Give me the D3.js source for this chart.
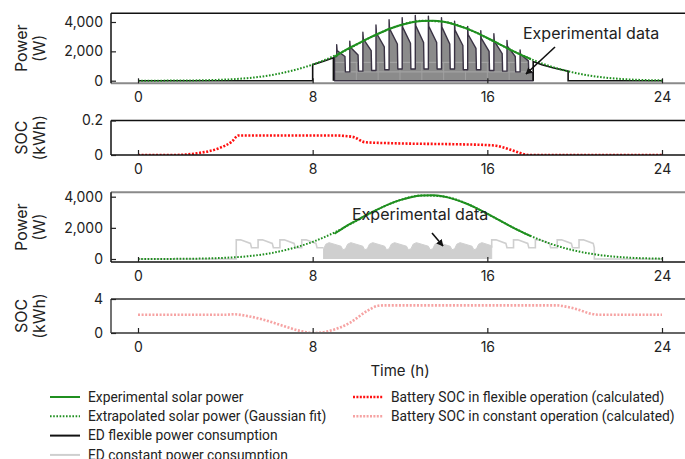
<!DOCTYPE html>
<html><head><meta charset="utf-8">
<script src="https://cdn.jsdelivr.net/npm/d3@7"></script>
<style>
body{margin:0;background:#fff}
svg{display:block}
text{font-family:Inter, "Noto Sans", sans-serif;fill:#222}
.leg{font-family:Roboto, sans-serif}
</style>
</head><body>
<svg id="c" width="685" height="459"></svg>
<script>
// ---------- data ----------
const xTicks = [0, 8, 16, 24];
const powerTicks = [0, 2000, 4000];
const socFlexTicks = [0, 0.2];
const socConstTicks = [0, 4];

// extrapolated solar power (Gaussian fit), hourly
const solarHours = [0,1,2,3,4,5,6,7,8,9,10,11,12,13,14,15,16,17,18,19,20,21,22,23,24];
const solarExtrap = [1,4,12,31,77,173,355,663,1100,1700,2450,3200,3780,4080,4010,3590,2900,2150,1470,930,540,280,130,55,20];

// experimental solar power
const solarExpT = [9,9.5,10,10.5,11,11.5,12,12.5,13,13.5,14,14.5,15,15.5,16,16.5,17,17.5,18];
const solarExpW = [1620,2080,2470,2850,3200,3520,3780,3970,4070,4090,4010,3830,3580,3270,2910,2530,2150,1790,1460];

// ED flexible power (outside experimental window)
const flexBefore = [[0,0],[8,0],[8,1090],[8.5,1330],[8.95,1560],[8.95,0]];
const flexAfter = [[18.1,0],[18.1,1300],[18.5,1080],[19,880],[19.7,650],[19.7,0],[24,0]];
// ED flexible power, experimental data (h, W)
const flexExp = [
[9.0,0],[9.0,1650],[9.1,1650],[9.1,2450],[9.12,2050],[9.48,1650],[9.5,600],[9.7,600],
[9.7,2700],[9.72,2300],[10.08,1750],[10.1,650],[10.3,650],
[10.3,3300],[10.32,2850],[10.68,2050],[10.7,700],[10.9,700],
[10.9,3800],[10.92,3250],[11.28,2300],[11.3,750],[11.5,750],
[11.5,4150],[11.52,3550],[11.88,2500],[11.9,800],[12.1,800],
[12.1,4300],[12.12,3650],[12.48,2550],[12.5,800],[12.7,800],
[12.7,4450],[12.72,3750],[13.08,2600],[13.1,800],[13.3,800],
[13.3,4400],[13.32,3700],[13.68,2600],[13.7,800],[13.9,800],
[13.9,4300],[13.92,3650],[14.28,2500],[14.3,800],[14.5,800],
[14.5,4050],[14.52,3450],[14.88,2400],[14.9,750],[15.1,750],
[15.1,3700],[15.12,3150],[15.48,2200],[15.5,750],[15.7,750],
[15.7,3400],[15.72,2900],[16.08,2000],[16.1,700],[16.3,700],
[16.3,3200],[16.32,2700],[16.68,1850],[16.7,650],[16.9,650],
[16.9,2750],[16.92,2350],[17.28,1650],[17.3,600],[17.5,600],
[17.5,2100],[17.52,1800],[17.88,1350],[17.9,550],[18.1,550],[18.1,0]
];
// faint grid seen through the experimental fill
const fillGridW = [600, 1250];
const fillGridH = [10, 11, 12, 13, 14, 15, 16, 17];

// ED constant power (h, W)
const constBefore = [[0,0],[4.5,0],[4.5,1230],[4.7,1230],[5.15,1000],[5.2,720],[5.5,720],
[5.5,1230],[5.7,1230],[6.15,1000],[6.2,720],[6.5,720],
[6.5,1230],[6.7,1230],[7.15,1000],[7.2,720],[7.5,720],
[7.5,1230],[7.7,1230],[8.15,1000],[8.2,720],[8.5,720]];
const constAfter = [[16.2,720],[16.2,1230],[16.4,1230],[16.85,1000],[16.9,720],[17.2,720],
[17.2,1230],[17.4,1230],[17.85,1000],[17.9,720],[18.2,720],
[18.2,1230],[18.4,1230],[18.85,1000],[18.9,720],[19.2,720],
[19.2,1230],[19.4,1230],[19.85,1000],[19.9,720],[20.2,720],
[20.2,1230],[20.4,1230],[20.85,1000],[20.9,720],[20.9,0],[24,0]];
const constExp = [
[8.5,0],[8.5,650],[8.6,950],[8.75,1050],[9.3,820],[9.38,600],
[9.5,650],[9.6,950],[9.75,1050],[10.3,820],[10.38,600],
[10.5,650],[10.6,950],[10.75,1050],[11.3,820],[11.38,600],
[11.5,650],[11.6,950],[11.75,1050],[12.3,820],[12.38,600],
[12.5,650],[12.6,950],[12.75,1050],[13.3,820],[13.38,600],
[13.5,650],[13.6,950],[13.75,1050],[14.3,820],[14.38,600],
[14.5,650],[14.6,950],[14.75,1050],[15.3,820],[15.38,600],
[15.5,650],[15.6,950],[15.75,1050],[16.2,850],[16.2,0]
];

// battery SOC (h, kWh)
const socFlex = [[0,0],[1.7,0],[2.7,0.01],[3.7,0.039],[4.3,0.078],[4.6,0.113],[9.1,0.113],[9.5,0.11],[9.9,0.103],[10.4,0.074],[11.7,0.068],[14.7,0.062],[15.9,0.058],[16.4,0.054],[16.7,0.045],[17.3,0.02],[17.9,0],[24,0]];
const socConst = [[0,2.15],[4.0,2.15],[4.4,2.2],[5.0,2.0],[5.7,1.6],[6.7,0.8],[7.5,0.2],[8.0,0],[8.7,0.2],[9.7,1.2],[10.5,2.6],[11.0,3.2],[11.3,3.25],[19.2,3.25],[19.6,3.1],[20.1,2.8],[20.7,2.3],[21.1,2.15],[24,2.15]];

const legendLeft = ["Experimental solar power","Extrapolated solar power (Gaussian fit)","ED flexible power consumption","ED constant power consumption"];
const legendRight = ["Battery SOC in flexible operation (calculated)","Battery SOC in constant operation (calculated)"];

// ---------- drawing ----------
const svg = d3.select("#c");
const x = d3.scaleLinear().domain([0,24]).range([138,662]);
const GREEN = "#1f8f1f", RED = "#ff1010", PINK = "#f6a3a3", DARK = "#3a3344", LGRAY = "#cfcfcf";

function panel(cfg){
  const y = d3.scaleLinear().domain(cfg.domain).range(cfg.range);
  const g = svg.append("g");
  g.append("clipPath").attr("id", cfg.id).append("rect")
    .attr("x",111).attr("y",cfg.top).attr("width",580).attr("height",cfg.bottom-cfg.top);
  const inner = g.append("g").attr("clip-path",`url(#${cfg.id})`);
  g.append("line").attr("x1",111).attr("x2",690).attr("y1",cfg.top).attr("y2",cfg.top)
    .attr("stroke",cfg.topColor).attr("stroke-width",cfg.topW||1.5);
  g.append("line").attr("x1",111).attr("x2",690).attr("y1",cfg.bottom).attr("y2",cfg.bottom)
    .attr("stroke",cfg.botColor).attr("stroke-width",cfg.botW||1.5);
  g.append("line").attr("x1",111).attr("x2",111).attr("y1",cfg.top).attr("y2",cfg.bottom)
    .attr("stroke",cfg.leftColor||"#111").attr("stroke-width",1.5);
  const xa = d3.axisBottom(x).tickValues(xTicks).tickSizeInner(-5).tickSizeOuter(0).tickPadding(9).tickFormat(d3.format("d"));
  const gx = g.append("g").attr("transform",`translate(0,${cfg.bottom})`).call(xa);
  gx.select(".domain").remove();
  gx.selectAll("line").attr("stroke","#222").attr("stroke-width",1.2);
  gx.selectAll("text").attr("font-size",14).attr("fill","#222").attr("font-family","Inter");
  const ya = d3.axisLeft(y).tickValues(cfg.ticks).tickSizeInner(-5).tickSizeOuter(0).tickPadding(8).tickFormat(cfg.fmt);
  const gy = g.append("g").attr("transform","translate(111,0)").call(ya);
  gy.select(".domain").remove();
  gy.selectAll("line").attr("stroke","#222").attr("stroke-width",1.2);
  gy.selectAll("text").attr("font-size",14).attr("fill","#222").attr("font-family","Inter");
  const cy = (cfg.top+cfg.bottom)/2;
  g.append("text").attr("transform",`translate(27,${cy}) rotate(-90)`).attr("text-anchor","middle")
    .attr("font-size",16).text(cfg.t1);
  g.append("text").attr("transform",`translate(45,${cy}) rotate(-90)`).attr("text-anchor","middle")
    .attr("font-size",16).text(cfg.t2);
  return {y, inner, g};
}

const fmtK = d => d3.format(",")(d);
const p1 = panel({id:"c1",domain:[0,4000],range:[80.7,22],top:13.3,bottom:83.3,ticks:powerTicks,fmt:fmtK,
  topColor:"#111",botColor:"#8a8a8a",botW:2,t1:"Power",t2:"(W)"});
const p2 = panel({id:"c2",domain:[0,0.2],range:[155,120.5],top:120.5,bottom:155,ticks:socFlexTicks,fmt:d=>d===0?"0":d3.format(".1f")(d),
  topColor:"#111",botColor:"#111",t1:"SOC",t2:"(kWh)"});
const p3 = panel({id:"c3",domain:[0,4000],range:[259,196.7],top:192.3,bottom:262,ticks:powerTicks,fmt:fmtK,
  topColor:"#8a8a8a",topW:2,botColor:"#111",t1:"Power",t2:"(W)"});
const p4 = panel({id:"c4",domain:[0,4],range:[333,299],top:299,bottom:333,ticks:socConstTicks,fmt:d3.format("d"),
  topColor:"#666",topW:2,botColor:"#666",botW:2,leftColor:"#444",t1:"SOC",t2:"(kWh)"});

function lineXY(y, curve){ return d3.line().x(d=>x(d[0])).y(d=>y(d[1])).curve(curve||d3.curveLinear); }
const solarPts = solarHours.map((h,i)=>[h,solarExtrap[i]]);
const solarExpPts = solarExpT.map((h,i)=>[h,solarExpW[i]]);

// Panel 1
const defs = svg.append("defs");
defs.append("clipPath").attr("id","fillclip").append("path").attr("d",lineXY(p1.y)(flexExp)+"Z");
p1.inner.append("path").datum(flexExp).attr("d",lineXY(p1.y)(flexExp)+"Z").attr("fill","#8b8b8b").attr("stroke","none");
const gridG = p1.inner.append("g").attr("clip-path","url(#fillclip)");
fillGridW.forEach(w=>gridG.append("line").attr("x1",x(9)).attr("x2",x(18.1)).attr("y1",p1.y(w)).attr("y2",p1.y(w))
  .attr("stroke","#a8a8a8").attr("stroke-width",1));
fillGridH.forEach(h=>gridG.append("line").attr("x1",x(h)).attr("x2",x(h)).attr("y1",p1.y(0)).attr("y2",p1.y(1250))
  .attr("stroke","#a0a0a0").attr("stroke-width",1));
p1.inner.append("path").attr("d",lineXY(p1.y)(flexExp)+"Z").attr("fill","none")
  .attr("stroke",DARK).attr("stroke-width",1.4).attr("stroke-linejoin","round");
p1.inner.append("path").datum(flexBefore).attr("d",lineXY(p1.y)).attr("fill","none").attr("stroke","#111").attr("stroke-width",1.6);
p1.inner.append("path").datum(flexAfter).attr("d",lineXY(p1.y)).attr("fill","none").attr("stroke","#111").attr("stroke-width",1.6);
p1.inner.append("path").datum(solarPts).attr("d",lineXY(p1.y,d3.curveMonotoneX)).attr("fill","none")
  .attr("stroke",GREEN).attr("stroke-width",2).attr("stroke-dasharray","1.6,1.6");
p1.inner.append("path").datum(solarExpPts).attr("d",lineXY(p1.y,d3.curveMonotoneX)).attr("fill","none")
  .attr("stroke",GREEN).attr("stroke-width",2);

// Panel 2
p2.inner.append("path").datum(socFlex).attr("d",lineXY(p2.y,d3.curveMonotoneX)).attr("fill","none")
  .attr("stroke",RED).attr("stroke-width",2.6).attr("stroke-dasharray","2,1.6");

// Panel 3
p3.inner.append("path").datum(constExp).attr("d",lineXY(p3.y)).attr("fill",LGRAY).attr("stroke",LGRAY).attr("stroke-width",1);
p3.inner.append("path").datum(constBefore).attr("d",lineXY(p3.y)).attr("fill","none").attr("stroke",LGRAY).attr("stroke-width",1.6);
p3.inner.append("path").datum(constAfter).attr("d",lineXY(p3.y)).attr("fill","none").attr("stroke",LGRAY).attr("stroke-width",1.6);
p3.inner.append("path").datum(solarPts).attr("d",lineXY(p3.y,d3.curveMonotoneX)).attr("fill","none")
  .attr("stroke",GREEN).attr("stroke-width",2).attr("stroke-dasharray","1.6,1.6");
p3.inner.append("path").datum(solarExpPts).attr("d",lineXY(p3.y,d3.curveMonotoneX)).attr("fill","none")
  .attr("stroke",GREEN).attr("stroke-width",2);

// Panel 4
p4.inner.append("path").datum(socConst).attr("d",lineXY(p4.y,d3.curveMonotoneX)).attr("fill","none")
  .attr("stroke",PINK).attr("stroke-width",2.6).attr("stroke-dasharray","2,1.6");

// annotations
defs.append("marker").attr("id","arr").attr("viewBox","0 0 10 10").attr("refX",9).attr("refY",5)
  .attr("markerWidth",7).attr("markerHeight",7).attr("orient","auto-start-reverse").attr("markerUnits","userSpaceOnUse")
  .append("path").attr("d","M0,0 L10,5 L0,10 z").attr("fill","#111");
svg.append("text").attr("x",523).attr("y",39).attr("font-size",16).text("Experimental data");
svg.append("line").attr("x1",555).attr("y1",47).attr("x2",526).attr("y2",74).attr("stroke","#111").attr("stroke-width",1.6).attr("marker-end","url(#arr)");
svg.append("text").attr("x",352).attr("y",220).attr("font-size",16).text("Experimental data");
svg.append("line").attr("x1",432).attr("y1",233).attr("x2",443).attr("y2",246).attr("stroke","#111").attr("stroke-width",1.6).attr("marker-end","url(#arr)");

svg.append("text").attr("x",400).attr("y",376).attr("text-anchor","middle").attr("font-size",15).text("Time (h)");

// legend
const legStyles = [
  {c:GREEN,w:2,d:null},{c:GREEN,w:2,d:"1.6,1.6"},{c:"#111",w:2,d:null},{c:LGRAY,w:2,d:null}
];
const legStylesR = [{c:RED,w:2.4,d:"2,1.4"},{c:PINK,w:2.4,d:"2,1.4"}];
legendLeft.forEach((t,i)=>{
  const yy = 397 + i*19.3;
  svg.append("line").attr("x1",50).attr("x2",80).attr("y1",yy).attr("y2",yy)
    .attr("stroke",legStyles[i].c).attr("stroke-width",legStyles[i].w).attr("stroke-dasharray",legStyles[i].d);
  svg.append("text").attr("class","leg").attr("x",88).attr("y",yy+4.7).attr("font-size",13.8).text(t);
});
legendRight.forEach((t,i)=>{
  const yy = 397 + i*19.3;
  svg.append("line").attr("x1",353).attr("x2",383).attr("y1",yy).attr("y2",yy)
    .attr("stroke",legStylesR[i].c).attr("stroke-width",legStylesR[i].w).attr("stroke-dasharray",legStylesR[i].d);
  svg.append("text").attr("class","leg").attr("x",391).attr("y",yy+4.7).attr("font-size",13.8).text(t);
});
</script>
</body></html>
